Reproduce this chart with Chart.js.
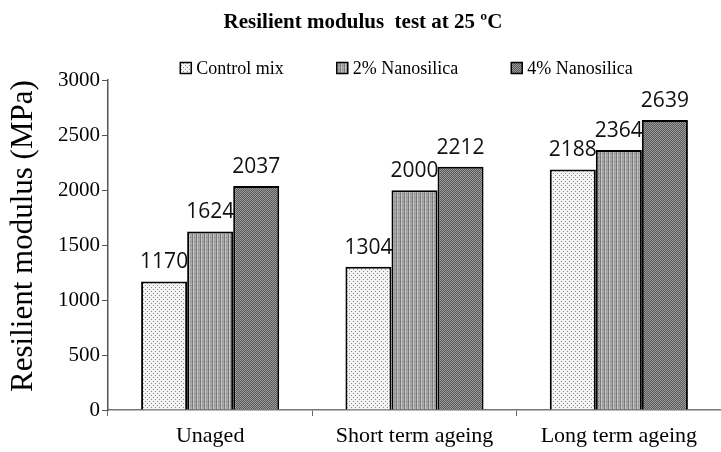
<!DOCTYPE html>
<html>
<head>
<meta charset="utf-8">
<script src="https://cdn.jsdelivr.net/npm/chart.js@4"></script>
<style>
  html, body { margin: 0; padding: 0; background: #fff; }
  #wrap { width: 721px; height: 452px; }
</style>
</head>
<body>
<div id="wrap"><canvas id="resilientChart" width="721" height="452"></canvas></div>
<script>
// data
const categories = ['Unaged', 'Short term ageing', 'Long term ageing'];
const seriesNames = ['Control mix', '2% Nanosilica', '4% Nanosilica'];
const controlMix = [1170, 1304, 2188];
const nano2 = [1624, 2000, 2364];
const nano4 = [2037, 2212, 2639];
const yTicks = [0, 500, 1000, 1500, 2000, 2500, 3000];

// small tiles to mimic the print hatching
function makePattern(bg, fg, drawFn) {
    const c = document.createElement('canvas');
    c.width = 4; c.height = 4;
    const g = c.getContext('2d');
    g.fillStyle = bg;
    g.fillRect(0, 0, 4, 4);
    g.fillStyle = fg;
    drawFn(g);
    return g.createPattern(c, 'repeat');
}

const ctx = document.getElementById('resilientChart').getContext('2d');

const dotted = makePattern('#f4f4f4', '#8a8a8a', g => {
    g.fillRect(1, 1, 1, 1);
    g.fillRect(3, 3, 1, 1);
});
const striped = makePattern('#a8a8a8', '#7a7a7a', g => {
    g.fillRect(0, 0, 1, 4);
    g.fillRect(2, 1, 1, 1);
    g.fillStyle = '#c4c4c4';
    g.fillRect(1, 0, 1, 4);
});
const checker = makePattern('#5a5a5a', '#9a9a9a', g => {
    for (let y = 0; y < 4; y++) {
        for (let x = (y % 2); x < 4; x += 2) g.fillRect(x, y, 1, 1);
    }
});
const fills = [dotted, striped, checker];

// value labels above each bar
const valueLabels = {
    id: 'valueLabels',
    afterDatasetsDraw(chart) {
        const c = chart.ctx;
        c.save();
        c.font = '21px "Open Sans", sans-serif';
        c.fillStyle = '#111';
        c.textAlign = 'center';
        c.textBaseline = 'alphabetic';
        chart.data.datasets.forEach((ds, i) => {
            chart.getDatasetMeta(i).data.forEach((bar, j) => {
                c.fillText(String(ds.data[j]), bar.x, bar.y - 13);
            });
        });
        c.restore();
    }
};

// legend centred over the plot area, wide gaps like the original
const plotLegend = {
    id: 'plotLegend',
    afterDraw(chart) {
        const c = chart.ctx;
        const area = chart.chartArea;
        const box = 11, gap = 5, spacing = 53;
        c.save();
        c.font = '18px "Liberation Serif", serif';
        const widths = seriesNames.map(n => box + gap + c.measureText(n).width);
        const total = widths.reduce((a, b) => a + b, 0) + spacing * (widths.length - 1);
        let x = (area.left + area.right) / 2 - total / 2 - 8;
        const y = 68;
        seriesNames.forEach((name, i) => {
            c.fillStyle = fills[i];
            c.fillRect(x, y - box / 2, box, box);
            c.strokeStyle = '#000';
            c.lineWidth = 1.5;
            c.strokeRect(x, y - box / 2, box, box);
            c.fillStyle = '#000';
            c.textBaseline = 'middle';
            c.textAlign = 'left';
            c.fillText(name, x + box + gap, y + 1);
            x += widths[i] + spacing;
        });
        c.restore();
    }
};

new Chart(ctx, {
    type: 'bar',
    data: {
        labels: categories,
        datasets: [controlMix, nano2, nano4].map((vals, i) => ({
            label: seriesNames[i],
            data: vals,
            backgroundColor: fills[i],
            borderColor: '#000',
            borderWidth: 2,
            borderSkipped: 'bottom',
            categoryPercentage: 0.676,
            barPercentage: 1.0
        }))
    },
    options: {
        responsive: false,
        animation: false,
        layout: { padding: { left: 5, right: 0, top: 0, bottom: 0 } },
        plugins: {
            title: {
                display: true,
                text: 'Resilient modulus  test at 25 ºC',
                color: '#000',
                font: { family: '"Liberation Serif", serif', size: 21, weight: 'bold' },
                padding: { top: 10, bottom: 45 }
            },
            legend: { display: false },
            tooltip: { enabled: false }
        },
        scales: {
            x: {
                afterFit: scale => { scale.height = 42; },
                grid: { display: true, drawOnChartArea: false, drawTicks: true, tickLength: 6, color: '#666', offset: true },
                border: { color: '#777', width: 1.5 },
                ticks: {
                    color: '#000',
                    font: { family: '"Liberation Serif", serif', size: 22 },
                    padding: 7
                }
            },
            y: {
                min: 0,
                max: 3000,
                afterBuildTicks: axis => { axis.ticks = yTicks.map(v => ({ value: v })); },
                afterFit: scale => { scale.width = 103; },
                grid: { display: true, drawOnChartArea: false, drawTicks: true, tickLength: 6, color: '#555' },
                border: { color: '#555', width: 1.5 },
                ticks: {
                    color: '#000',
                    font: { family: '"Liberation Serif", serif', size: 21 },
                    padding: 2,
                    callback: v => String(v)
                },
                title: {
                    display: true,
                    align: 'end',
                    text: 'Resilient modulus (MPa)',
                    color: '#000',
                    font: { family: '"Liberation Serif", serif', size: 31 },
                    padding: { top: 0, bottom: 0 }
                }
            }
        }
    },
    plugins: [valueLabels, plotLegend]
});
</script>
</body>
</html>
